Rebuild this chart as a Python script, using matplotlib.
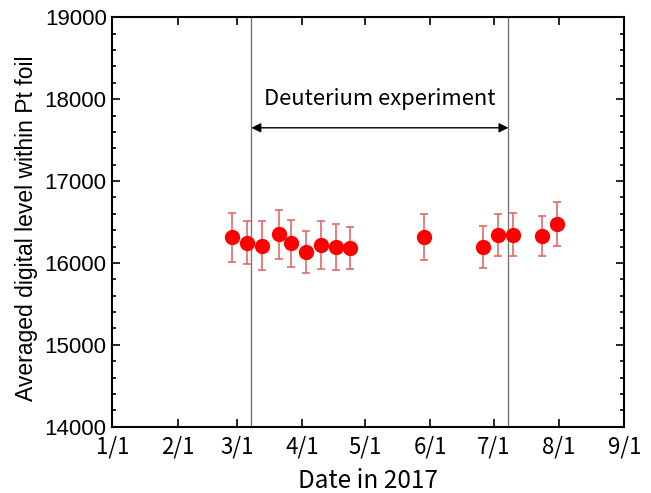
import matplotlib
matplotlib.use("Agg")
import matplotlib.pyplot as plt
from matplotlib.ticker import MultipleLocator
from datetime import date

# measurement dates (2017) and averaged digital level
dates = ["2017-02-27", "2017-03-06", "2017-03-13", "2017-03-21", "2017-03-27",
         "2017-04-03", "2017-04-10", "2017-04-17", "2017-04-24", "2017-05-29",
         "2017-06-26", "2017-07-03", "2017-07-10", "2017-07-24", "2017-07-31"]
level = [16313, 16247, 16211, 16350, 16240, 16137, 16215, 16191, 16182, 16317,
         16195, 16341, 16345, 16325, 16476]
err = [300, 260, 300, 300, 287, 256, 295, 280, 260, 280, 260, 258, 260, 244, 265]

exp_start = date(2017, 3, 8)
exp_end = date(2017, 7, 8)

month_ticks = [date(2017, m, 1) for m in range(1, 10)]
month_labels = ["%d/1" % m for m in range(1, 10)]

x = [date.fromisoformat(d) for d in dates]

jp = ["Noto Sans CJK JP", "DejaVu Sans"]

fig = plt.figure(figsize=(6.51, 4.93), dpi=100)
ax = fig.add_axes([0.1725, 0.1345, 0.7865, 0.8305])

ax.axvline(exp_start, color="#777777", lw=1)
ax.axvline(exp_end, color="#777777", lw=1)

ax.errorbar(x, level, yerr=err, fmt="o", color="red", ms=10,
            ecolor="#e26a6a", elinewidth=1.2, capsize=3, capthick=1.2)

ax.annotate("", xy=(exp_start, 17650), xytext=(exp_end, 17650),
            arrowprops=dict(arrowstyle="<|-|>", color="black", lw=1,
                            mutation_scale=14, shrinkA=0, shrinkB=0))
ax.text(date(2017, 5, 8), 18000, "Deuterium experiment", ha="center",
        va="center", fontsize=15.8, family=jp)

ax.set_xlim(date(2017, 1, 1), date(2017, 9, 1))
ax.set_ylim(14000, 19000)
ax.set_xticks(month_ticks)
ax.set_xticklabels(month_labels, family=jp, fontsize=16)
ax.yaxis.set_major_locator(MultipleLocator(1000))
ax.yaxis.set_minor_locator(MultipleLocator(200))
for lab in ax.get_yticklabels():
    lab.set_family("Liberation Sans")
    lab.set_fontsize(16)

ax.tick_params(which="both", direction="in", top=True, right=True, width=1.2)
ax.tick_params(which="major", length=6)
ax.tick_params(which="minor", length=3)
ax.tick_params(axis="y", pad=4)
ax.tick_params(axis="x", pad=6)
for s in ax.spines.values():
    s.set_linewidth(1.5)

ax.set_xlabel("Date in 2017", family=jp, fontsize=17.5)
ax.xaxis.set_label_coords(0.5, -0.133)
ax.xaxis.label.set_va("center")
ax.set_ylabel("Averaged digital level within Pt foil", family="Liberation Sans",
              fontsize=16.5, labelpad=5)
ax.yaxis.label.set_y(0.485)

fig.savefig("out.png", dpi=100)
